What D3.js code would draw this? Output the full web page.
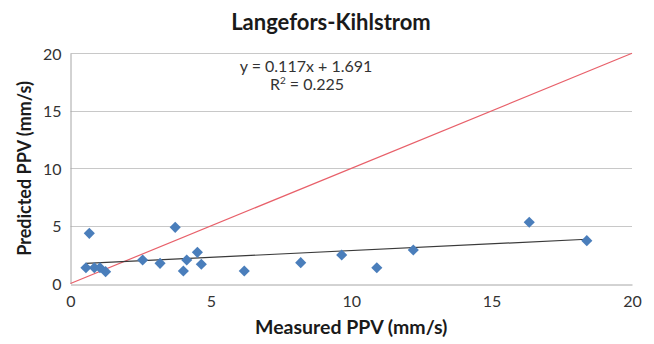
<!DOCTYPE html>
<html>
<head>
<meta charset="utf-8">
<script src="https://cdn.jsdelivr.net/npm/d3@7"></script>
<style>
  html, body { margin: 0; padding: 0; background: #fff; }
  svg { display: block; font-family: Lato, "Open Sans", sans-serif; }
</style>
</head>
<body>
<svg id="chart" width="654" height="344"></svg>
<script>
// Measured vs predicted peak particle velocity (mm/s)
const measuredPPV  = [0.67, 0.55, 0.85, 1.05, 1.25, 2.57, 3.19, 3.73, 4.02, 4.14, 4.52, 4.66, 6.19, 8.20, 9.66, 10.91, 12.21, 16.34, 18.39];
const predictedPPV = [4.36, 1.37, 1.37, 1.37, 1.03, 2.04, 1.75, 4.88, 1.09, 2.04, 2.71, 1.67, 1.09, 1.81, 2.48, 1.37, 2.91, 5.32, 3.72];

// Linear trend reported on the chart
const trendSlope = 0.117;
const trendIntercept = 1.691;
const rSquared = 0.225;

const xTicks = [0, 5, 10, 15, 20];
const yTicks = [0, 5, 10, 15, 20];

const title = "Langefors-Kihlstrom";
const xTitle = "Measured PPV (mm/s)";
const yTitle = "Predicted PPV (mm/s)";

const points = measuredPPV.map((m, i) => ({ x: m, y: predictedPPV[i] }));

const svg = d3.select("#chart");
const margin = { left: 70.5, right: 22, top: 53.3, bottom: 60.5 };
const W = 654, H = 344;

const x = d3.scaleLinear().domain([0, 20]).range([margin.left, W - margin.right]);
const y = d3.scaleLinear().domain([0, 20]).range([H - margin.bottom, margin.top]);

// Horizontal gridlines
svg.append("g")
  .selectAll("line")
  .data(yTicks.filter(t => t > 0))
  .join("line")
  .attr("x1", x(0)).attr("x2", x(20))
  .attr("y1", d => Math.round(y(d)) + 0.5).attr("y2", d => Math.round(y(d)) + 0.5)
  .attr("stroke", "#c8c8c8").attr("stroke-width", 1);

// Axes
const xAxis = svg.append("g")
  .attr("transform", `translate(0,${Math.round(y(0)) + 0.5})`)
  .call(d3.axisBottom(x).tickValues(xTicks).tickSize(0).tickPadding(11));
const yAxis = svg.append("g")
  .attr("transform", `translate(${Math.round(x(0)) - 0.5},0)`)
  .call(d3.axisLeft(y).tickValues(yTicks).tickSize(0).tickPadding(9));

[xAxis, yAxis].forEach(g => {
  g.select(".domain").attr("stroke", "#a6a6a6").attr("stroke-width", 1);
  g.selectAll("text")
    .attr("font-family", "Lato, sans-serif")
    .attr("font-size", 16)
    .attr("fill", "#333");
});
yAxis.selectAll("text").attr("dy", "0.36em");

// Line of perfect agreement (y = x)
svg.append("line")
  .attr("x1", x(0)).attr("y1", y(0))
  .attr("x2", x(20)).attr("y2", y(20))
  .attr("stroke", "#e8606a").attr("stroke-width", 1.2);

// Linear trendline across the measured range
const xMin = d3.min(measuredPPV), xMax = d3.max(measuredPPV);
svg.append("line")
  .attr("x1", x(xMin)).attr("y1", y(trendSlope * xMin + trendIntercept))
  .attr("x2", x(xMax)).attr("y2", y(trendSlope * xMax + trendIntercept))
  .attr("stroke", "#3a3a3a").attr("stroke-width", 1.2);

// Diamond markers
const diamond = d3.symbol().type(d3.symbolSquare).size(62);
svg.append("g")
  .selectAll("path")
  .data(points)
  .join("path")
  .attr("d", diamond)
  .attr("transform", d => `translate(${x(d.x)},${y(d.y)}) rotate(45)`)
  .attr("fill", "#4a7ebb");

// Chart title
svg.append("text")
  .attr("x", 331).attr("y", 30)
  .attr("text-anchor", "middle")
  .attr("font-size", 22).attr("font-weight", "bold")
  .attr("fill", "#1a1a1a")
  .text(title);

// Trend equation and R²
svg.append("text")
  .attr("x", 306).attr("y", 72)
  .attr("text-anchor", "middle")
  .attr("font-size", 16)
  .attr("fill", "#333")
  .text(`y = ${trendSlope.toFixed(3)}x + ${trendIntercept.toFixed(3)}`);
const r2 = svg.append("text")
  .attr("x", 307).attr("y", 90)
  .attr("text-anchor", "middle")
  .attr("font-size", 16)
  .attr("fill", "#333");
r2.append("tspan").text("R");
r2.append("tspan").attr("dy", -6).attr("font-size", 10).text("2");
r2.append("tspan").attr("dy", 6).text(` = ${rSquared.toFixed(3)}`);

// Axis titles
svg.append("text")
  .attr("x", x(10)).attr("y", 334)
  .attr("text-anchor", "middle")
  .attr("font-size", 19.5).attr("font-weight", "bold")
  .attr("fill", "#1a1a1a")
  .text(xTitle);

svg.append("text")
  .attr("transform", `translate(31,${(y(0) + y(20)) / 2}) rotate(-90)`)
  .attr("text-anchor", "middle")
  .attr("font-size", 18).attr("font-weight", "bold")
  .attr("fill", "#1a1a1a")
  .text(yTitle);
</script>
</body>
</html>
